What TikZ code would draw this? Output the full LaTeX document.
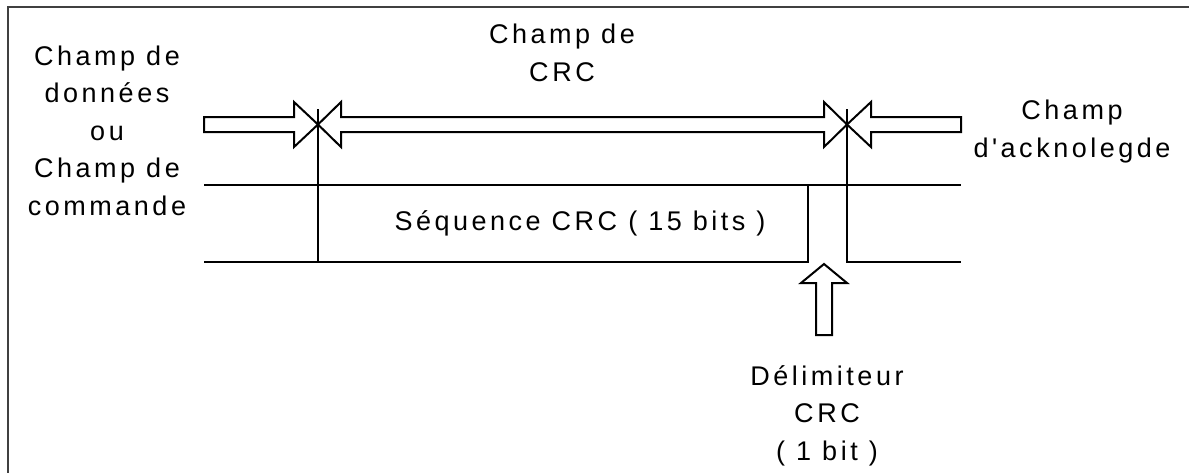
\documentclass[tikz,border=0pt]{standalone}
\usepackage{fontspec}
\newfontfamily\diagfont{Liberation Sans}[LetterSpace=13,Ligatures=TeXOff]
\tikzset{
  fieldtext/.style={font=\diagfont\fontsize{13.5}{18.75}\selectfont,align=center,inner sep=0pt,anchor=base},
  wire/.style={line width=1pt},
  hollow/.style={draw,line width=1pt,line join=miter,fill=white}
}
\begin{document}
\begin{tikzpicture}[x=0.5pt,y=-0.5pt]
   \useasboundingbox (0,0) rectangle (1189,473);
   % frame
   \draw[line width=1pt,black!75] (1189,7) -- (8,7) -- (8,473);
   \coordinate (crcstart) at (318,124.5);
   \coordinate (crcend) at (847,124.5);
   \coordinate (delimtip) at (824,264);
   % block arrows
   \draw[hollow] (crcstart) -- (294,102) -- (294,117) -- (204,117) -- (204,132)
      -- (294,132) -- (294,147) -- cycle;
   \draw[hollow] (crcstart) -- (341,102) -- (341,117) -- (824,117) -- (824,102)
      -- (crcend) -- (824,147) -- (824,132) -- (341,132) -- (341,147) -- cycle;
   \draw[hollow] (crcend) -- (871,102) -- (871,117) -- (961,117) -- (961,132)
      -- (871,132) -- (871,147) -- cycle;
   \draw[hollow] (delimtip) -- (847,283) -- (832,283) -- (832,335) -- (816,335)
      -- (816,283) -- (801,283) -- cycle;
   % bit stream
   \draw[wire] (crcstart |- 0,109) -- (crcstart |- 0,262);
   \draw[wire] (crcend |- 0,109) -- (crcend |- 0,262) -- (961,262);
   \draw[wire] (204,185) -- (961,185);
   \draw[wire] (204,262) -- (808,262) -- (808,185);
   % texts (anchored on the baseline of their last line)
   \node[fieldtext] (data) at (107,215) {Champ de\\données\\ou\\Champ de\\commande};
   \node[fieldtext] (crcfield) at (562,81) {Champ de\\CRC};
   \node[fieldtext] (ack) at (1072,157) {Champ\\d'acknolegde};
   \node[fieldtext] (seq) at (580,230) {Séquence CRC ( 15 bits )};
   \node[fieldtext] (delim) at (827,460) {Délimiteur\\CRC\\( 1 bit )};
\end{tikzpicture}
\end{document}
